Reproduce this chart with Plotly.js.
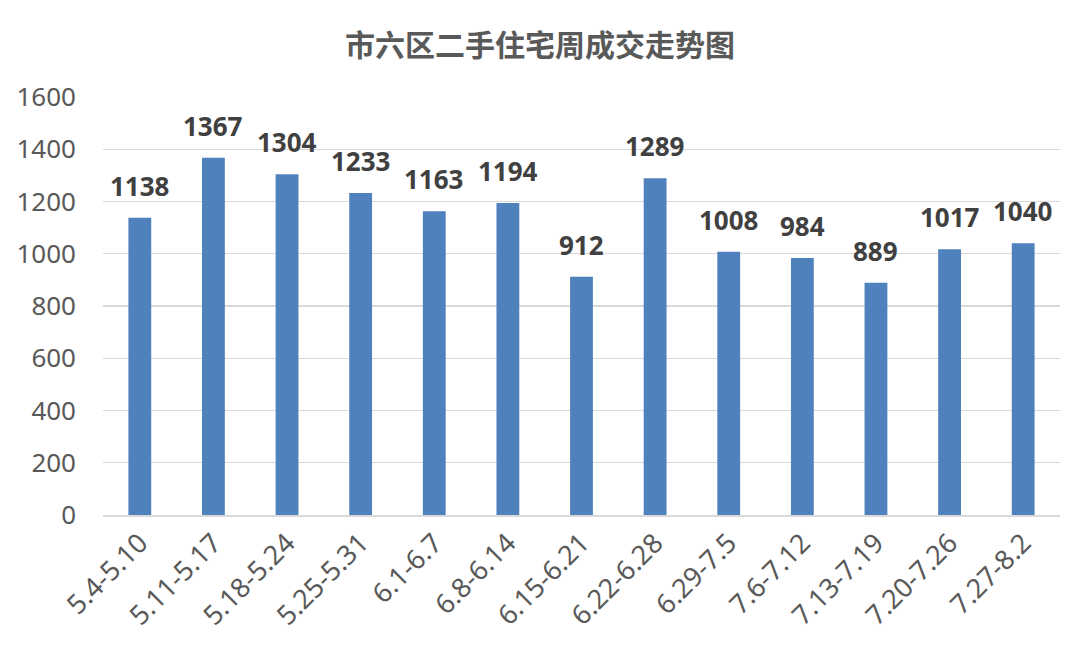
<!DOCTYPE html>
<html><head><meta charset="utf-8">
<script src="https://cdn.plot.ly/plotly-3.0.1.min.js"></script>
<style>html,body{margin:0;padding:0;background:#fff}#c{width:1080px;height:656px}</style>
</head><body><div id="c"></div>
<script>
const categories = ["5.4-5.10","5.11-5.17","5.18-5.24","5.25-5.31","6.1-6.7","6.8-6.14","6.15-6.21","6.22-6.28","6.29-7.5","7.6-7.12","7.13-7.19","7.20-7.26","7.27-8.2"];
const values = [1138,1367,1304,1233,1163,1194,912,1289,1008,984,889,1017,1040];
const yTicks = [0,200,400,600,800,1000,1200,1400,1600];

const annotations = categories.map((c, i) => ({
  x: c, y: values[i], xref: 'x', yref: 'y', text: '<b>' + values[i] + '</b>',
  showarrow: false, yanchor: 'bottom', yshift: 12,
  font: {family: '"Noto Sans", "Open Sans", sans-serif', size: 26, color: '#404040'}
}));

Plotly.newPlot('c', [{
  type: 'bar', x: categories, y: values,
  marker: {color: '#4f81bd'},
  hoverinfo: 'none'
}], {
  width: 1080, height: 656,
  margin: {l: 103, r: 20, t: 97, b: 141},
  paper_bgcolor: '#fff', plot_bgcolor: '#fff',
  bargap: 0.69,
  showlegend: false,
  annotations: annotations,
  title: {text: '<b>市六区二手住宅周成交走势图</b>', x: 0.5, xanchor: 'center', y: 0.93, yanchor: 'middle',
    font: {family: '"Noto Sans CJK SC", sans-serif', size: 30, color: '#595959'}},
  xaxis: {type: 'category', tickangle: -45, showgrid: false, showline: true, linecolor: '#d9d9d9', linewidth: 1.5,
    ticks: '', tickfont: {family: '"Noto Sans", "Open Sans", sans-serif', size: 27, color: '#595959'}},
  yaxis: {range: [0, 1600], tickvals: yTicks, ticktext: yTicks.map(String), showgrid: true, gridcolor: '#d9d9d9', gridwidth: 1.2,
    zeroline: false, showline: false, ticks: '', ticklabelstandoff: 26,
    tickfont: {family: '"Noto Sans", "Open Sans", sans-serif', size: 26, color: '#595959'}}
}, {staticPlot: true});
</script></body></html>
